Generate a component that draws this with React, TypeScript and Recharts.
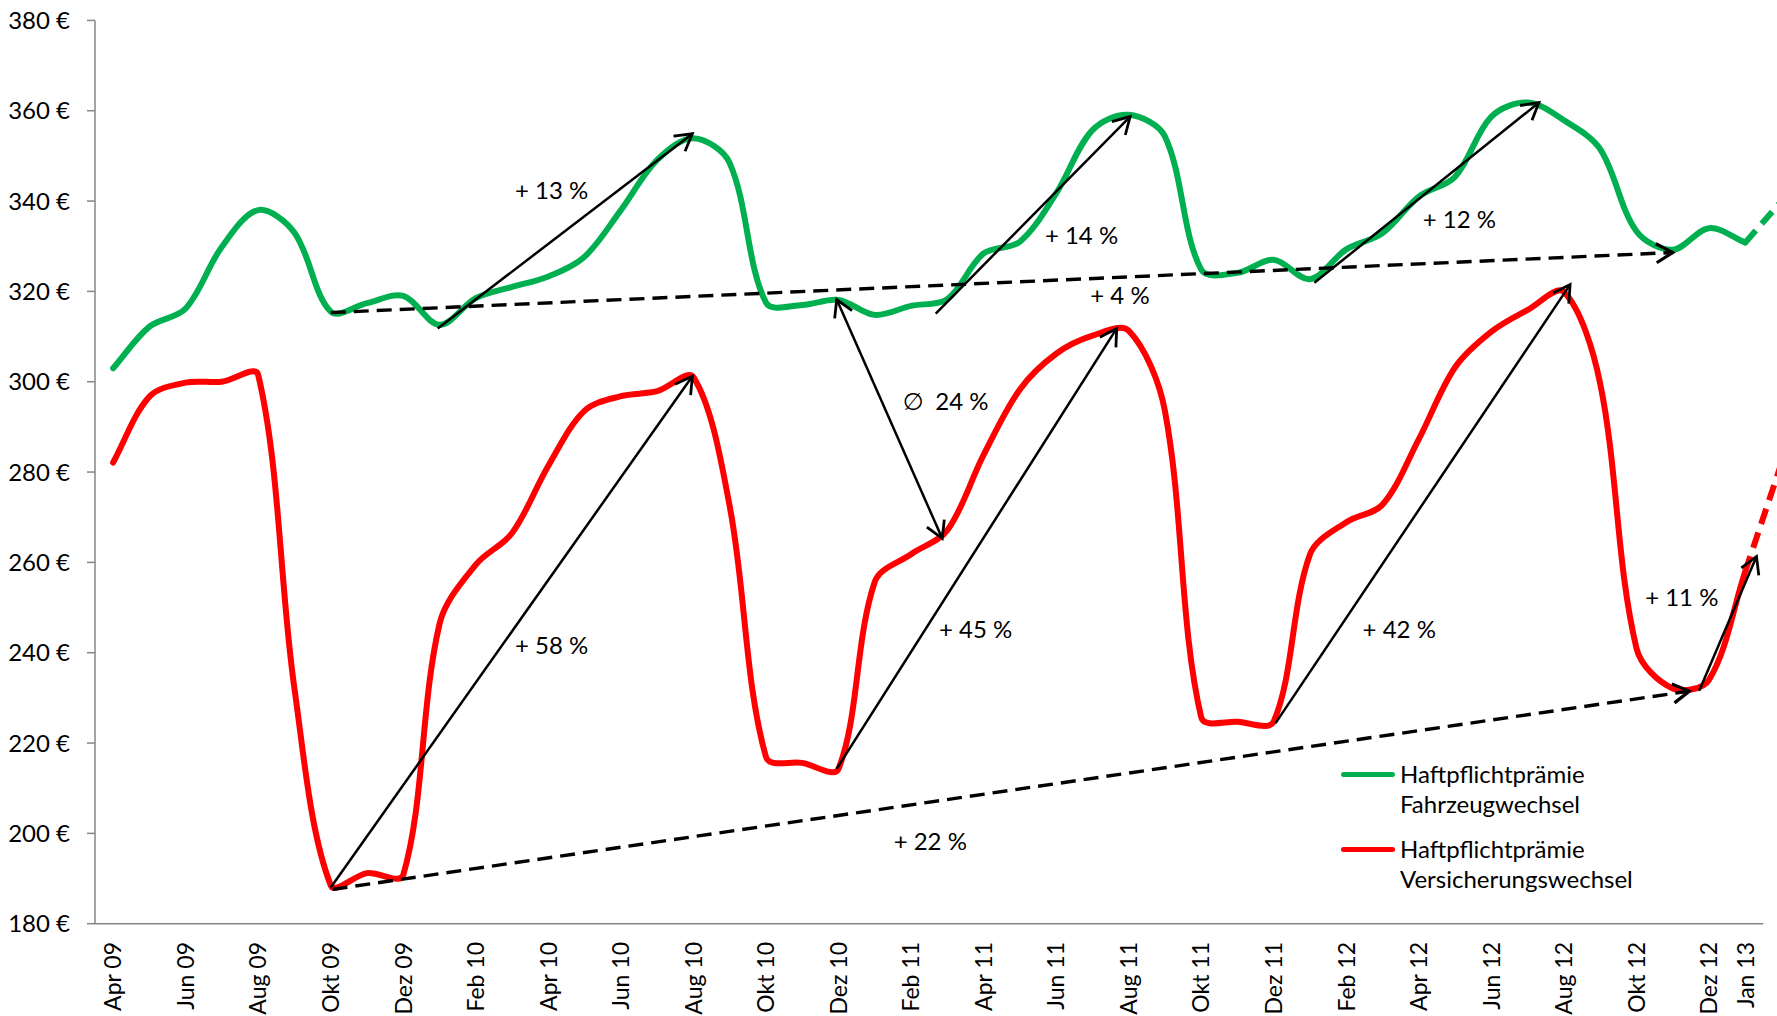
import React from 'react';
import { LineChart, Line, XAxis, YAxis, ReferenceLine, ReferenceDot, Legend } from 'recharts';

// ---------- data ----------
const months = [
  'Apr 09', 'Mai 09', 'Jun 09', 'Jul 09', 'Aug 09', 'Sep 09', 'Okt 09', 'Nov 09', 'Dez 09',
  'Jan 10', 'Feb 10', 'Mrz 10', 'Apr 10', 'Mai 10', 'Jun 10', 'Jul 10', 'Aug 10', 'Sep 10', 'Okt 10', 'Nov 10', 'Dez 10',
  'Jan 11', 'Feb 11', 'Mrz 11', 'Apr 11', 'Mai 11', 'Jun 11', 'Jul 11', 'Aug 11', 'Sep 11', 'Okt 11', 'Nov 11', 'Dez 11',
  'Jan 12', 'Feb 12', 'Mrz 12', 'Apr 12', 'Mai 12', 'Jun 12', 'Jul 12', 'Aug 12', 'Sep 12', 'Okt 12', 'Nov 12', 'Dez 12',
  'Jan 13', 'Feb 13',
];

const fahrzeugwechsel = [
  303.0, 312.2, 316.2, 329.9, 338.0, 333.0, 315.5, 317.4, 319.0, 312.6,
  318.5, 321.0, 323.3, 327.7, 338.0, 349.1, 353.9, 348.4, 317.5, 317.0,
  318.1, 314.8, 316.8, 318.3, 328.4, 331.0, 341.7, 355.7, 359.1, 354.3,
  324.8, 324.1, 327.0, 322.7, 329.3, 332.9, 341.0, 345.4, 358.7, 361.8,
  357.9, 351.5, 333.3, 329.2, 334.0, 330.8,
];

const versicherungswechsel = [
  282.1, 296.7, 299.8, 300.0, 301.5, 232.0, 188.5, 191.2, 190.8, 246.4,
  259.5, 266.5, 281.4, 293.6, 296.8, 297.9, 301.0, 272.4, 216.9, 215.6,
  214.3, 255.7, 261.8, 267.1, 283.8, 298.3, 306.2, 310.2, 311.3, 293.5,
  225.7, 224.7, 224.8, 261.8, 268.9, 272.8, 287.3, 303.2, 311.1, 315.9,
  319.9, 299.6, 241.0, 232.1, 234.0, 258.0,
];

// projected continuation (dashed), months Jan 13 -> Feb 13
const prognoseStart = 45;
const fahrzeugPrognose = [330.8, 340.0];
const versicherungPrognose = [258.0, 282.0];

const yTicks = [180, 200, 220, 240, 260, 280, 300, 320, 340, 360, 380];
const labelTicks = [0, 2, 4, 6, 8, 10, 12, 14, 16, 18, 20, 22, 24, 26, 28, 30, 32, 34, 36, 38, 40, 42, 44, 45];
const boundaryTicks = [-0.5, 1.5, 3.5, 5.5, 7.5, 9.5, 11.5, 13.5, 15.5, 17.5, 19.5, 21.5, 23.5, 25.5, 27.5, 29.5, 31.5, 33.5, 35.5, 37.5, 39.5, 41.5, 43.5, 45.5];

// annotations in data coordinates: [xStart, yStart, xEnd, yEnd]
const solidArrows = [
  [8.95, 311.8, 15.97, 354.9],
  [22.68, 315.1, 28.04, 358.7],
  [33.12, 321.9, 39.31, 361.8],
  [6.0, 188.0, 15.97, 301.2],
  [19.95, 214.3, 27.67, 311.8],
  [32.05, 224.4, 40.17, 321.5],
  [43.73, 231.6, 45.31, 261.3],
];
const dashedArrows = [
  [6.0, 315.3, 43.0, 328.6],
  [6.05, 187.6, 43.46, 231.5],
];
const doubleArrows = [[19.95, 318.2, 22.86, 265.3]];

const annotationTexts = [
  { x: 12.09, y: 342.4, text: '+ 13 %' },
  { x: 26.7, y: 332.5, text: '+ 14 %' },
  { x: 27.76, y: 319.2, text: '+ 4 %' },
  { x: 37.12, y: 336.0, text: '+ 12 %' },
  { x: 23.4, y: 295.6, text: '24 %' },
  { x: 12.09, y: 241.7, text: '+ 58 %' },
  { x: 23.78, y: 245.1, text: '+ 45 %' },
  { x: 35.46, y: 245.1, text: '+ 42 %' },
  { x: 43.25, y: 252.3, text: '+ 11 %' },
  { x: 22.53, y: 198.3, text: '+ 22 %' },
];
const symbolTexts = [{ x: 22.06, y: 295.6, text: '∅' }];

const seriesNames = {
  fz: 'Haftpflichtprämie Fahrzeugwechsel',
  vs: 'Haftpflichtprämie Versicherungswechsel',
};

const data = months.map((label, i) => ({
  i,
  label,
  fz: i < fahrzeugwechsel.length ? fahrzeugwechsel[i] : null,
  vs: i < versicherungswechsel.length ? versicherungswechsel[i] : null,
  fzP: i >= prognoseStart ? fahrzeugPrognose[i - prognoseStart] : null,
  vsP: i >= prognoseStart ? versicherungPrognose[i - prognoseStart] : null,
}));

// ---------- styling ----------
const FONT = 'Lato, "Open Sans", sans-serif';
const GREEN = '#00B050';
const RED = '#FF0000';
const AXIS = '#868686';

// Excel-like smoothed line: bezier whose tangents are weighted by neighbouring chord lengths
const excelSmooth = (context: any) => {
  let pts: number[][] = [];
  return {
    areaStart() {},
    areaEnd() {},
    lineStart() {
      pts = [];
    },
    point(x: number, y: number) {
      pts.push([+x, +y]);
    },
    lineEnd() {
      const n = pts.length;
      if (!n) return;
      context.moveTo(pts[0][0], pts[0][1]);
      if (n === 1) {
        context.lineTo(pts[0][0], pts[0][1]);
        return;
      }
      const dist = (a: number[], b: number[]) => Math.hypot(b[0] - a[0], b[1] - a[1]);
      // control points around each point
      const ctrlOut: number[][] = [];
      const ctrlIn: number[][] = [];
      for (let k = 0; k < n; k++) {
        const p0 = pts[Math.max(k - 1, 0)];
        const p1 = pts[k];
        const p2 = pts[Math.min(k + 1, n - 1)];
        const d01 = dist(p0, p1);
        const d12 = dist(p1, p2);
        const s = d01 + d12 || 1;
        const tx = p2[0] - p0[0];
        const ty = p2[1] - p0[1];
        ctrlOut[k] = [p1[0] + (tx * d12) / s / 3, p1[1] + (ty * d12) / s / 3];
        ctrlIn[k] = [p1[0] - (tx * d01) / s / 3, p1[1] - (ty * d01) / s / 3];
      }
      for (let k = 0; k < n - 1; k++) {
        context.bezierCurveTo(
          ctrlOut[k][0],
          ctrlOut[k][1],
          ctrlIn[k + 1][0],
          ctrlIn[k + 1][1],
          pts[k + 1][0],
          pts[k + 1][1],
        );
      }
    },
  };
};

const headPath = (tx: number, ty: number, fx: number, fy: number) => {
  const ang = Math.atan2(ty - fy, tx - fx);
  const L = 19;
  const a = Math.PI / 6;
  const ax = tx - L * Math.cos(ang - a);
  const ay = ty - L * Math.sin(ang - a);
  const bx = tx - L * Math.cos(ang + a);
  const by = ty - L * Math.sin(ang + a);
  return `M${ax},${ay}L${tx},${ty}L${bx},${by}`;
};

const makeArrow = (dashed: boolean, both: boolean) => (p: any) => {
  const { x1, y1, x2, y2 } = p;
  const w = dashed ? 3.4 : 2.5;
  let d = headPath(x2, y2, x1, y1);
  if (both) d += headPath(x1, y1, x2, y2);
  return (
    <g>
      <line x1={x1} y1={y1} x2={x2} y2={y2} stroke="#000" strokeWidth={w} strokeDasharray={dashed ? '15 8' : undefined} />
      <path d={d} fill="none" stroke="#000" strokeWidth={dashed ? 3.2 : 2.8} />
    </g>
  );
};

const makeText = (text: string, font: string) => (p: any) => (
  <text x={p.cx} y={p.cy} dy="0.36em" textAnchor="middle" fontFamily={font} fontSize={24} fill="#000">
    {text}
  </text>
);

const MonthTick = (props: any) => {
  const { x, payload } = props;
  const y = 942;
  return (
    <text
      x={x}
      y={y}
      dy="0.36em"
      textAnchor="end"
      transform={`rotate(-90 ${x} ${y})`}
      fontFamily={FONT}
      fontSize={23}
      fill="#000"
    >
      {months[payload.value]}
    </text>
  );
};

const LegendContent = (props: any) => {
  const items = (props.payload || []).filter((e: any) => e.type !== 'none');
  return (
    <div style={{ fontFamily: FONT, fontSize: 24, lineHeight: '30.7px', color: '#000' }}>
      {items.map((e: any, k: number) => {
        const name = String(e.value);
        const sp = name.indexOf(' ');
        return (
          <div key={k} style={{ display: 'flex', alignItems: 'flex-start', marginTop: k ? 13.6 : 0 }}>
            <div style={{ width: 54, height: 5, background: e.color, borderRadius: 3, marginTop: 13, marginRight: 5, flex: 'none' }} />
            <div style={{ whiteSpace: 'nowrap', textAlign: 'left' }}>
              <div>{name.slice(0, sp)}</div>
              <div>{name.slice(sp + 1)}</div>
            </div>
          </div>
        );
      })}
    </div>
  );
};

export default function App() {
  return (
    <>
      <style>{'body{margin:0;background:#fff}'}</style>
      <LineChart
        width={1777}
        height={1016}
        data={data}
        margin={{ top: 20.4, right: 0, bottom: 90.3, left: 0 }}
      >
        <XAxis
          xAxisId="tk"
          type="number"
          dataKey="i"
          domain={[-0.5, 45.875]}
          allowDataOverflow
          ticks={boundaryTicks}
          interval={0}
          tick={false}
          tickLine={{ stroke: AXIS, strokeWidth: 1.5 }}
          tickSize={8}
          axisLine={false}
          height={1}
        />
        <XAxis
          xAxisId="lab"
          type="number"
          dataKey="i"
          domain={[-0.5, 45.875]}
          allowDataOverflow
          ticks={labelTicks}
          interval={0}
          tick={MonthTick}
          tickLine={false}
          axisLine={false}
          height={1}
        />
        <YAxis
          type="number"
          domain={[180, 380]}
          ticks={yTicks}
          interval={0}
          width={95}
          tickFormatter={(v: number) => `${v} €`}
          tick={{ fontFamily: FONT, fontSize: 24, fill: '#000' }}
          tickLine={{ stroke: AXIS, strokeWidth: 1.5 }}
          tickSize={8}
          tickMargin={17}
          axisLine={{ stroke: AXIS, strokeWidth: 1.5 }}
        />
        <ReferenceLine
          xAxisId="lab"
          segment={[{ x: -0.5, y: 180 }, { x: 45.5, y: 180 }]}
          stroke={AXIS}
          strokeWidth={1.5}
        />
        <Line
          xAxisId="lab"
          dataKey="fz"
          name={seriesNames.fz}
          type={excelSmooth as any}
          stroke={GREEN}
          strokeWidth={6}
          strokeLinecap="round"
          strokeLinejoin="round"
          dot={false}
          activeDot={false}
          isAnimationActive={false}
        />
        <Line
          xAxisId="lab"
          dataKey="vs"
          name={seriesNames.vs}
          type={excelSmooth as any}
          stroke={RED}
          strokeWidth={6}
          strokeLinecap="round"
          strokeLinejoin="round"
          dot={false}
          activeDot={false}
          isAnimationActive={false}
        />
        <Line
          xAxisId="lab"
          dataKey="fzP"
          legendType="none"
          type="linear"
          stroke={GREEN}
          strokeWidth={6}
          strokeDasharray="16 9"
          dot={false}
          activeDot={false}
          isAnimationActive={false}
        />
        <Line
          xAxisId="lab"
          dataKey="vsP"
          legendType="none"
          type="linear"
          stroke={RED}
          strokeWidth={6}
          strokeDasharray="16 9"
          dot={false}
          activeDot={false}
          isAnimationActive={false}
        />
        {dashedArrows.map((a, k) => (
          <ReferenceLine
            key={`d${k}`}
            xAxisId="lab"
            segment={[{ x: a[0], y: a[1] }, { x: a[2], y: a[3] }]}
            shape={makeArrow(true, false)}
          />
        ))}
        {solidArrows.map((a, k) => (
          <ReferenceLine
            key={`s${k}`}
            xAxisId="lab"
            segment={[{ x: a[0], y: a[1] }, { x: a[2], y: a[3] }]}
            shape={makeArrow(false, false)}
          />
        ))}
        {doubleArrows.map((a, k) => (
          <ReferenceLine
            key={`b${k}`}
            xAxisId="lab"
            segment={[{ x: a[0], y: a[1] }, { x: a[2], y: a[3] }]}
            shape={makeArrow(false, true)}
          />
        ))}
        {annotationTexts.map((t, k) => (
          <ReferenceDot key={`t${k}`} xAxisId="lab" x={t.x} y={t.y} r={0} shape={makeText(t.text, FONT)} />
        ))}
        {symbolTexts.map((t, k) => (
          <ReferenceDot key={`y${k}`} xAxisId="lab" x={t.x} y={t.y} r={0} shape={makeText(t.text, '"DejaVu Sans", sans-serif')} />
        ))}
        <Legend
          layout="horizontal"
          verticalAlign="middle"
          align="center"
          wrapperStyle={{ position: 'absolute', left: 1341, top: 758.7, width: 430, height: 140 }}
          content={LegendContent}
        />
      </LineChart>
    </>
  );
}
